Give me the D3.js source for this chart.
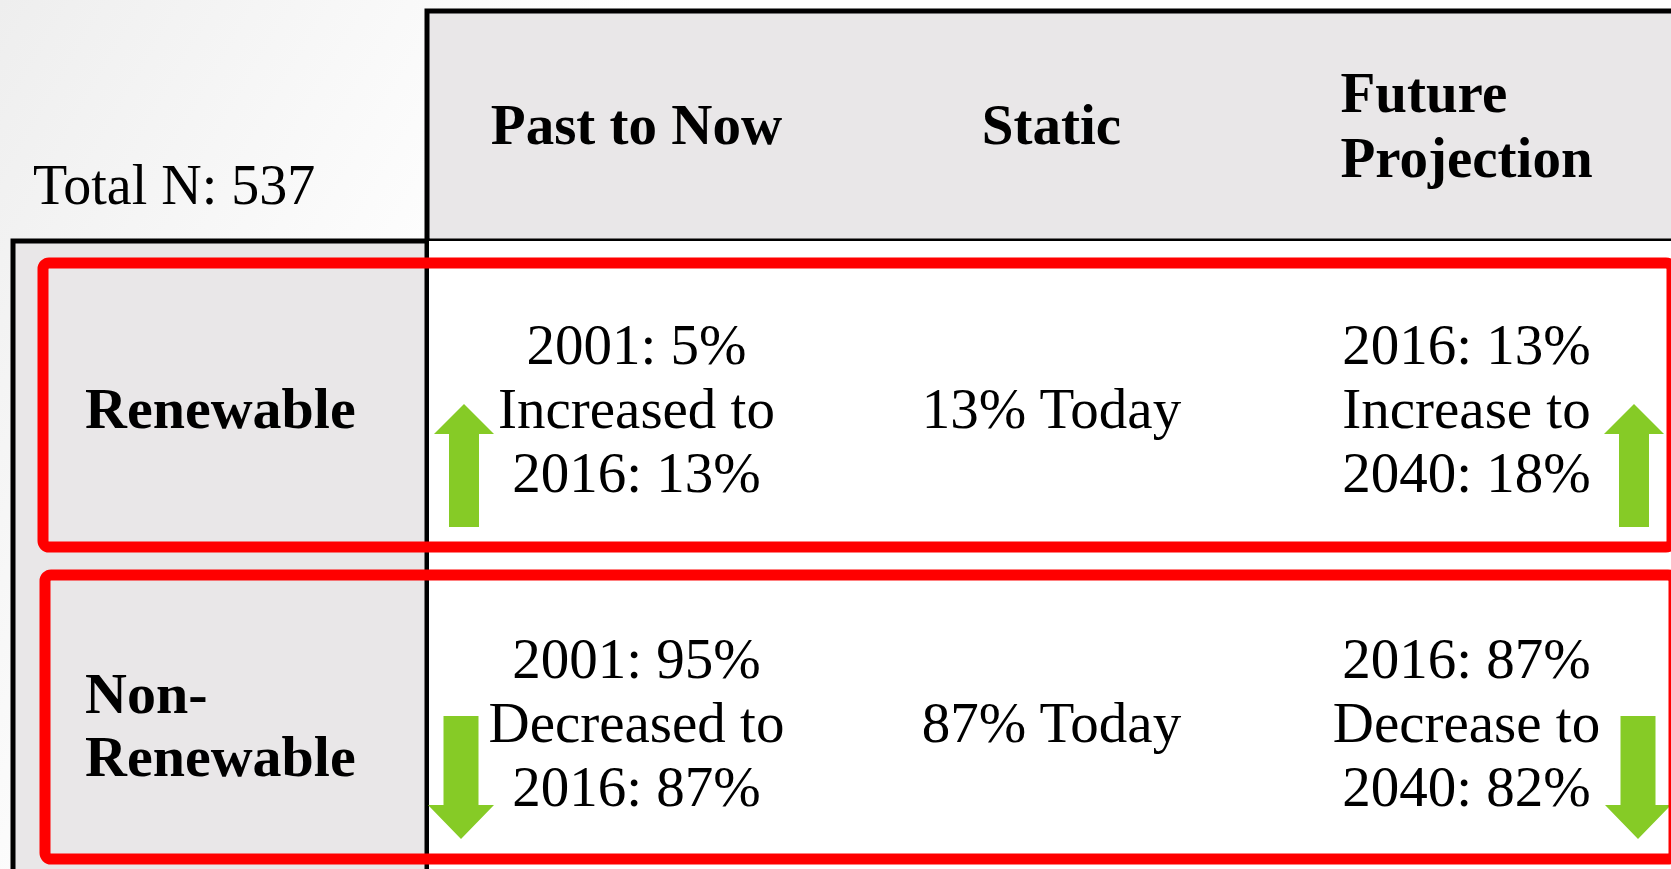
<!DOCTYPE html>
<html>
<head>
<meta charset="utf-8">
<script src="https://cdn.jsdelivr.net/npm/d3@7"></script>
<style>
  html, body { margin: 0; padding: 0; background: #fff; }
  svg { display: block; font-family: "Liberation Serif", "DejaVu Serif", serif; }
</style>
</head>
<body>
<div id="chart"></div>
<script>
// table content
const columns = ["Past to Now", "Static", "Future Projection"];
const rows = ["Renewable", "Non-Renewable"];
const rowLines = [["Renewable"], ["Non-", "Renewable"]];
const share2001 = [5, 95];
const share2016 = [13, 87];
const share2040 = [18, 82];
const totalN = 537;

const width = 1671, height = 869;
const gray = "#e9e7e8", red = "#ff0000", green = "#86cb26";

const svg = d3.select("#chart").append("svg")
  .attr("width", width)
  .attr("height", height);

// soft grey background on the left, fading to white
const grad = svg.append("defs").append("linearGradient")
  .attr("id", "bg").attr("x1", "0").attr("y1", "0").attr("x2", "1").attr("y2", "0.3");
grad.append("stop").attr("offset", "0").attr("stop-color", "#eeeeee");
grad.append("stop").attr("offset", "0.35").attr("stop-color", "#ffffff");
grad.append("stop").attr("offset", "1").attr("stop-color", "#ffffff");
svg.append("rect").attr("width", width).attr("height", height).attr("fill", "url(#bg)");

// scales for the grid
const x = d3.scaleBand().domain(columns).range([429, 1674]);
const y = d3.scaleBand().domain(rows).range([249, 873]);
const leftX = 13, splitX = 427, headTop = 11, headBottom = 241;

// header band and left column
svg.append("rect")
  .attr("x", splitX).attr("y", headTop)
  .attr("width", width - splitX + 20).attr("height", headBottom - headTop)
  .attr("fill", gray).attr("stroke", "#000").attr("stroke-width", 5);
svg.append("rect")
  .attr("x", leftX).attr("y", headBottom)
  .attr("width", splitX - leftX).attr("height", height - headBottom + 20)
  .attr("fill", gray).attr("stroke", "#000").attr("stroke-width", 5);
svg.append("rect")
  .attr("x", splitX).attr("y", headBottom)
  .attr("width", width - splitX + 20).attr("height", height - headBottom + 20)
  .attr("fill", "#fff");
svg.append("line")
  .attr("x1", splitX).attr("x2", splitX)
  .attr("y1", headTop).attr("y2", height + 5)
  .attr("stroke", "#000").attr("stroke-width", 4);

svg.append("text")
  .attr("x", 33).attr("y", 204)
  .attr("font-size", 56)
  .text("Total N: " + totalN);

// column headers
const head = svg.append("g").attr("font-size", 57).attr("font-weight", "bold");
columns.forEach(c => {
  const words = c.split(" ");
  const cx = x(c) + x.bandwidth() / 2;
  if (c === "Future Projection") {
    const t = head.append("text").attr("text-anchor", "start");
    t.append("tspan").attr("y", 112).text(words[0]);
    const p = t.append("tspan").attr("y", 177).text(words[1]);
    const w = p.node().getComputedTextLength();
    t.selectAll("tspan").attr("x", cx - w / 2);
  } else {
    head.append("text").attr("x", cx).attr("y", 144)
      .attr("text-anchor", "middle").text(c);
  }
});

// row labels
rows.forEach((r, i) => {
  const cy = y(r) + y.bandwidth() / 2;
  const lines = rowLines[i];
  const shift = lines.length > 1 ? 4 : 0;
  const t = svg.append("text").attr("font-size", 58).attr("font-weight", "bold");
  lines.forEach((l, j) => {
    t.append("tspan").attr("x", 85)
      .attr("y", cy + 23 + shift + (j - (lines.length - 1) / 2) * 63)
      .text(l);
  });
});

// cell texts
function cellLines(i, col) {
  const a = share2001[i], b = share2016[i], c = share2040[i];
  if (col === "Past to Now") return [`2001: ${a}%`, b > a ? "Increased to" : "Decreased to", `2016: ${b}%`];
  if (col === "Static") return [`${b}% Today`];
  return [`2016: ${b}%`, c > b ? "Increase to" : "Decrease to", `2040: ${c}%`];
}

rows.forEach((r, i) => {
  const cy = y(r) + y.bandwidth() / 2 + i * 2;
  columns.forEach(col => {
    const lines = cellLines(i, col);
    const t = svg.append("text").attr("font-size", 57).attr("text-anchor", "middle");
    lines.forEach((l, j) => {
      t.append("tspan").attr("x", x(col) + x.bandwidth() / 2)
        .attr("y", cy + 23 + (j - (lines.length - 1) / 2) * 64)
        .text(l);
    });
  });
});

// trend arrows
function arrowPath(up) {
  const h = 123;
  if (up) {
    const sw = 15, hw = 30, hh = 30;
    return d3.line()([[0, 0], [hw, hh], [sw, hh], [sw, h], [-sw, h], [-sw, hh], [-hw, hh]]) + "Z";
  }
  const sw = 17.5, hw = 33, hh = 34;
  return d3.line()([[0, h], [hw, h - hh], [sw, h - hh], [sw, 0], [-sw, 0], [-sw, h - hh], [-hw, h - hh]]) + "Z";
}

rows.forEach((r, i) => {
  const cy = y(r) + y.bandwidth() / 2;
  const upPast = share2016[i] > share2001[i];
  const upFuture = share2040[i] > share2016[i];
  svg.append("path")
    .attr("transform", `translate(${x("Past to Now") + (upPast ? 35 : 32)},${cy - 1})`)
    .attr("d", arrowPath(upPast)).attr("fill", green);
  svg.append("path")
    .attr("transform", `translate(${x("Future Projection") + x.bandwidth() - (upFuture ? 40 : 36)},${cy - 1})`)
    .attr("d", arrowPath(upFuture)).attr("fill", green);
});

// red highlight boxes
rows.forEach((r, i) => {
  svg.append("rect")
    .attr("x", 43 + i * 2).attr("y", y(r) + 14)
    .attr("width", 1629).attr("height", y.bandwidth() - 28)
    .attr("rx", 6)
    .attr("fill", "none").attr("stroke", red).attr("stroke-width", 11);
});
</script>
</body>
</html>
